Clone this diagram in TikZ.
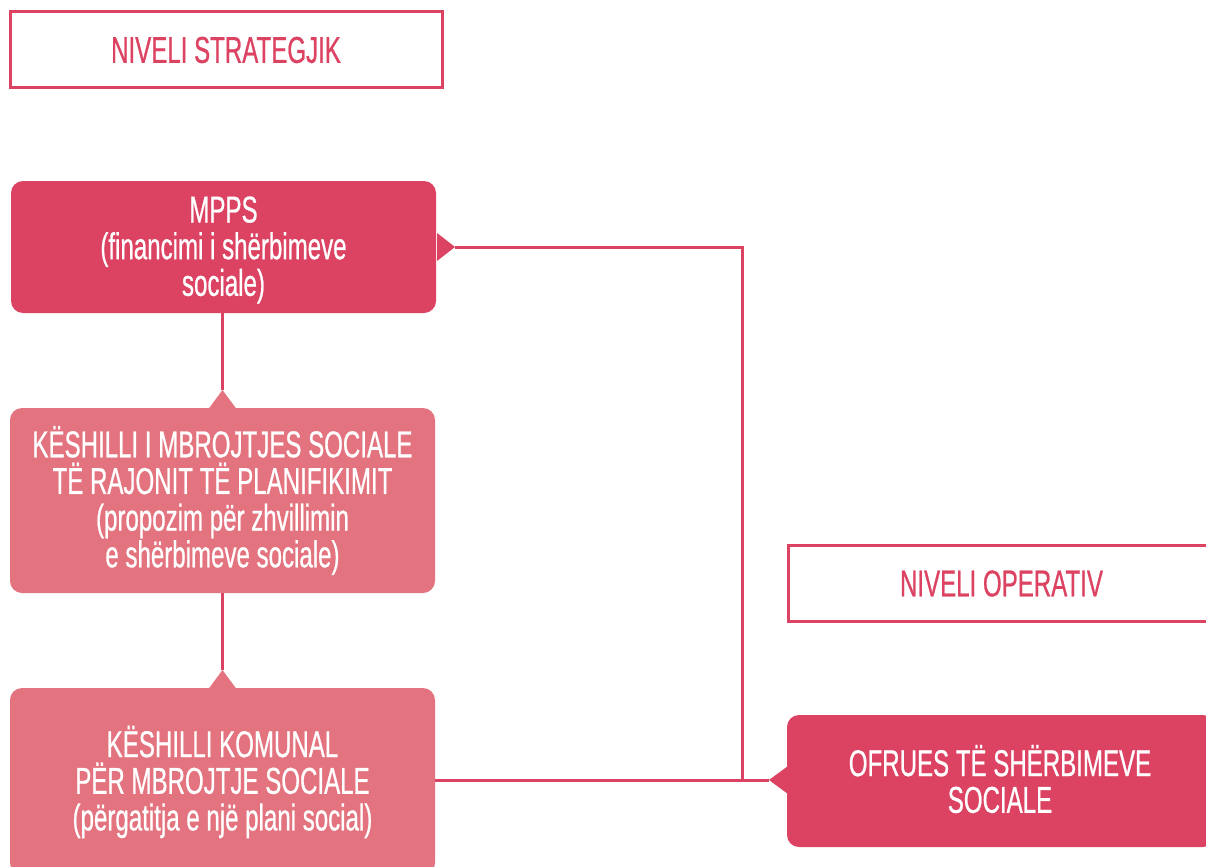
\documentclass[tikz,border=0pt]{standalone}
\usepackage{fontspec}
\setmainfont{Liberation Sans}[FakeStretch=0.645, FakeBold=0.6]
\definecolor{dark}{HTML}{DC4262}
\definecolor{light}{HTML}{E3737E}
\begin{document}
\begin{tikzpicture}[x=0.75pt,y=-0.75pt,
  txt/.style={font=\fontsize{28}{27.5}\selectfont, align=center, inner sep=0pt},
  levelbox/.style={txt, draw=dark, line width=2.25pt, text=dark, minimum height=57pt},
  darkbox/.style={txt, fill=dark, text=white, rounded corners=9pt, minimum width=318.75pt},
  lightbox/.style={txt, fill=light, text=white, rounded corners=9pt, minimum width=318.75pt},
  conn/.style={draw=dark, line width=2.25pt}]
\useasboundingbox (0,0) rectangle (1206,867);
\node[levelbox, minimum width=324pt] (strat) at (226,50) {NIVELI STRATEGJIK};
\node[levelbox, minimum width=320pt] (oper) at (1001.5,583.5) {NIVELI OPERATIV};
\node[darkbox, minimum height=99pt] (mpps) at (223.5,247) {};
\node[txt, text=white] (mppstxt) at (223.5,250) {MPPS\\(financimi i shërbimeve\\sociale)};
\node[lightbox, minimum height=138.75pt] (ksh) at (222.5,500.5) {KËSHILLI I MBROJTJES SOCIALE\\TË RAJONIT TË PLANIFIKIMIT\\(propozim për zhvillimin\\e shërbimeve sociale)};
\node[lightbox, minimum height=140.25pt] (kom) at (222.5,781.5) {};
\node[txt, text=white] (komtxt) at (222.5,782) {KËSHILLI KOMUNAL\\PËR MBROJTJE SOCIALE\\(përgatitja e një plani social)};
\node[darkbox, minimum width=321pt, minimum height=99pt] (ofr) at (1001,781) {};
\node[txt, text=white] (ofrtxt) at (1000,779) {OFRUES TË SHËRBIMEVE\\SOCIALE};
% notches
\fill[dark] (437,233) -- (455,247) -- (437,261) -- cycle;
\fill[light] (208.5,409) -- (222.5,390) -- (236.5,409) -- cycle;
\fill[light] (208.5,689) -- (222.5,670) -- (236.5,689) -- cycle;
\fill[dark] (788,766) -- (769,780) -- (788,794) -- cycle;
\coordinate (mppsTip) at (455,247);
\coordinate (kshTip) at (222.5,390);
\coordinate (komTip) at (222.5,670);
\coordinate (ofrTip) at (769,780);
\coordinate (corner) at (742,247);
\coordinate (join) at (742,780);
\draw[conn] (mppsTip) -- (corner) -- (join);
\draw[conn] (kom.east |- ofrTip) -- (ofrTip);
\draw[conn] (mpps.south -| kshTip) -- (kshTip);
\draw[conn] (ksh.south -| komTip) -- (komTip);
\end{tikzpicture}
\end{document}
